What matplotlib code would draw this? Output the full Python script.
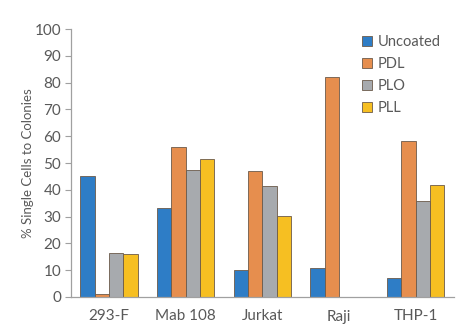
import matplotlib.pyplot as plt
import numpy as np

cell_lines = ['293-F', 'Mab 108', 'Jurkat', 'Raji', 'THP-1']
coatings = ['Uncoated', 'PDL', 'PLO', 'PLL']
uncoated = [45.0, 33.2, 10.0, 10.8, 7.1]
pdl = [1.2, 56.0, 47.0, 82.0, 58.2]
plo = [16.4, 47.3, 41.4, 0, 35.8]
pll = [15.9, 51.5, 30.2, 0, 41.8]

colors = ['#2E7DC6', '#E68E4E', '#A7AAAE', '#F6BF22']
text_color = '#595959'

plt.rcParams['font.family'] = ['Lato', 'DejaVu Sans']

fig = plt.figure(figsize=(4.69, 3.30), dpi=100)
ax = fig.add_axes([0.151, 0.1, 0.817, 0.812])

x = np.arange(len(cell_lines))
width = 0.187
series = [uncoated, pdl, plo, pll]
for i, (name, vals) in enumerate(zip(coatings, series)):
    offset = (i - 1.5) * width
    ax.bar(x + offset, vals, width, color=colors[i], edgecolor='#6b5a4a',
           linewidth=0.6, label=name)

ax.set_xlim(-0.5, 4.5)
ax.set_ylim(0, 100)
ax.set_yticks(range(0, 101, 10))
ax.set_xticks(x)
ax.set_xticklabels(cell_lines)
ax.tick_params(axis='x', length=0, pad=9, labelsize=11, colors=text_color)
ax.tick_params(axis='y', length=4, width=0.8, color='#a0a0a0', labelsize=11,
               colors=text_color, pad=3)
ax.set_ylabel('% Single Cells to Colonies', fontsize=9.5, color=text_color, labelpad=0)

for side in ['top', 'right']:
    ax.spines[side].set_visible(False)
for side in ['left', 'bottom']:
    ax.spines[side].set_color('#a0a0a0')
    ax.spines[side].set_linewidth(0.9)

leg = ax.legend(loc='upper left', bbox_to_anchor=(0.745, 1.0), frameon=False,
                fontsize=10.5, handlelength=0.7, handleheight=0.7,
                handletextpad=0.35, labelspacing=0.55, borderaxespad=0)
for t in leg.get_texts():
    t.set_color(text_color)

fig.savefig('out.png', dpi=100)
